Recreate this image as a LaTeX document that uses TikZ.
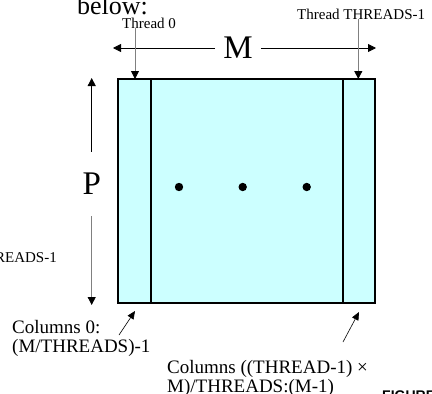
\documentclass[tikz,border=0pt]{standalone}
\usepackage{fontspec}
\setmainfont{Liberation Serif}
\setsansfont{Liberation Sans}
\usetikzlibrary{arrows.meta, positioning}
\definecolor{colfill}{HTML}{CCFFFF}
\definecolor{arrgray}{HTML}{808080}

\begin{document}
\begin{tikzpicture}[x=1pt, y=-1pt,
    lbl/.style={inner sep=0pt, font=\fontsize{15}{17}\selectfont},
    cols/.style={inner sep=0pt, align=left, anchor=north west,
                 font=\fontsize{19}{19}\selectfont},
    dim/.style={font=\fontsize{33}{33}\selectfont},
    arr/.style={-{Triangle[length=8pt, width=8pt]}, thick},
    garr/.style={-{Triangle[length=8pt, width=8pt, color=black]}, draw=arrgray, thick},
    carr/.style={-{Triangle[length=8pt, width=7pt]}, semithick},
    sep/.style={line width=2.2pt}
  ]
    \useasboundingbox (0,0) rectangle (432,394);

    % matrix and its thread columns
    \node[draw, line width=2.2pt, fill=colfill, minimum width=256.7pt,
          minimum height=223.7pt, inner sep=0pt] (mat) at (246.7,190.9) {};
    \draw[sep] (150.7,79) -- (150.7,302.7);
    \draw[sep] (342.7,79) -- (342.7,302.7);
    \foreach \x in {179,242.7,306.7}
      \fill (\x,187) circle (4.2pt);

    % dimensions
    \node[dim, inner xsep=8pt, inner ysep=0pt] (M) at (238,48) {M};
    \coordinate (Mleft) at (113,48);
    \coordinate (Mright) at (376,48);
    \draw[arr] (M) -- (Mleft);
    \draw[arr] (M) -- (Mright);

    \node[dim, inner xsep=0pt, inner ysep=21pt] (P) at (91.7,184) {P};
    \coordinate (Ptop) at (91.7,78);
    \coordinate (Pbot) at (91.7,305);
    \draw[arr] (P) -- (Ptop);
    \draw[garr] (P) -- (Pbot);

    % text cut off by the page
    \node[anchor=base west, inner sep=0pt, font=\fontsize{26}{26}\selectfont] (hdr) at (77,14) {below:};
    \node[lbl, anchor=base east] (rowlbl) at (57,262) {THREADS-1};
    \node[anchor=north west, inner sep=0pt,
          font=\sffamily\bfseries\fontsize{14}{14}\selectfont] (fig) at (382,390.5) {FIGURE};

    % threads
    \node[lbl, anchor=base west] (t0) at (122,28) {Thread 0};
    \node[lbl, anchor=base west] (tn) at (297,19) {Thread THREADS-1};
    \coordinate (t0tip) at (135,79);
    \coordinate (tntip) at (358.3,79);
    \draw[garr] (t0.south -| t0tip) -- (t0tip);
    \draw[garr] (tn.south -| tntip) -- (tntip);

    % columns
    \node[cols] (c0) at (12,320) {Columns 0:\\(M/THREADS)-1};
    \node[cols] (cn) at (167,360) {Columns ((THREAD-1) ×\\M)/THREADS:(M-1)};
    \coordinate (c0from) at (119,335);
    \coordinate (c0tip) at (135,311);
    \coordinate (cnfrom) at (343,342);
    \coordinate (cntip) at (359,312);
    \draw[carr] (c0from) -- (c0tip);
    \draw[carr] (cnfrom) -- (cntip);
  \end{tikzpicture}
\end{document}
